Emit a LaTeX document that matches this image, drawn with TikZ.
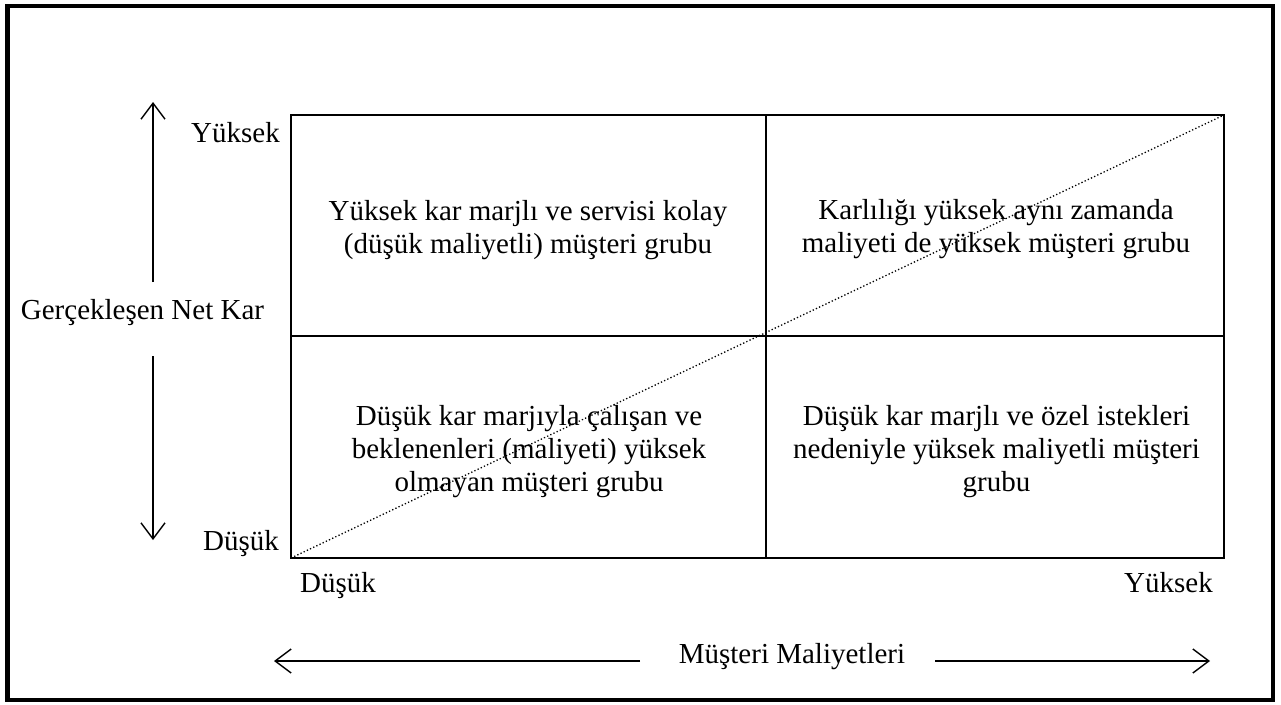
\documentclass[tikz,border=0pt]{standalone}
\usepackage{fontspec}
\setmainfont{Liberation Serif}
\usetikzlibrary{arrows.meta}
\begin{document}
\begin{tikzpicture}[x=1pt,y=-1pt,
  lbl/.style={inner sep=0pt,font=\fontsize{29}{33}\selectfont},
  celltext/.style={inner sep=0pt,anchor=base,font=\fontsize{29}{33}\selectfont},
  gridline/.style={line width=2pt},
  axisarrow/.style={line width=1.4pt,-{Straight Barb[length=16pt,width=24pt,line width=1.4pt]}},
  diag/.style={line width=1.3pt,dash pattern=on 1.3pt off 2.2pt}]
\useasboundingbox (0,0) rectangle (1281,704);
% outer frame
\draw[line width=4.5pt] (7.5,6) rectangle (1273,700);
% grid
\coordinate (gTL) at (291,115);
\coordinate (gBR) at (1224,558);
\coordinate (gBL) at (291,558);
\coordinate (gTR) at (1224,115);
\coordinate (mT) at (766,115);
\coordinate (mB) at (766,558);
\coordinate (mL) at (291,336);
\coordinate (mR) at (1224,336);
\draw[gridline] (gTL) rectangle (gBR);
\draw[gridline] (mT) -- (mB);
\draw[gridline] (mL) -- (mR);
\draw[diag] (gBL) -- (gTR);
% cell texts
\node[celltext] (tl) at (528,220) {\begin{tabular}[t]{@{}c@{}}Yüksek kar marjlı ve servisi kolay\\(düşük maliyetli) müşteri grubu\end{tabular}};
\node[celltext] (tr) at (996,219) {\begin{tabular}[t]{@{}c@{}}Karlılığı yüksek aynı zamanda\\maliyeti de yüksek müşteri grubu\end{tabular}};
\node[celltext] (bl) at (529,425) {\begin{tabular}[t]{@{}c@{}}Düşük kar marjıyla çalışan ve\\beklenenleri (maliyeti) yüksek\\olmayan müşteri grubu\end{tabular}};
\node[celltext] (br) at (996.5,425) {\begin{tabular}[t]{@{}c@{}}Düşük kar marjlı ve özel istekleri\\nedeniyle yüksek maliyetli müşteri\\grubu\end{tabular}};
% axis labels
\node[lbl,anchor=base east] (yhigh) at (280,142) {Yüksek};
\node[lbl,anchor=base east] (ylow) at (279,550) {Düşük};
\node[lbl,anchor=base] (ytitle) at (142.5,319) {Gerçekleşen Net Kar};
\node[lbl,anchor=base west] (xlow) at (300,592) {Düşük};
\node[lbl,anchor=base east] (xhigh) at (1213,592) {Yüksek};
\node[lbl,anchor=base] (xtitle) at (792,663) {Müşteri Maliyetleri};
% arrows
\coordinate (uS) at (153,282);
\coordinate (uE) at (153,102);
\coordinate (dS) at (153,356);
\coordinate (dE) at (153,540);
\coordinate (lS) at (640,661);
\coordinate (lE) at (274,661);
\coordinate (rS) at (935,661);
\coordinate (rE) at (1210,661);
\draw[axisarrow] (uS) -- (uE);
\draw[axisarrow] (dS) -- (dE);
\draw[axisarrow] (lS) -- (lE);
\draw[axisarrow] (rS) -- (rE);
\end{tikzpicture}
\end{document}
